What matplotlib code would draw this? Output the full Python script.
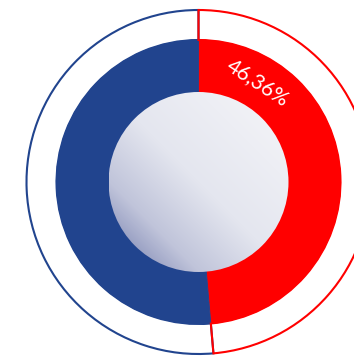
import numpy as np
import matplotlib
matplotlib.use("Agg")
import matplotlib.pyplot as plt
from matplotlib.colors import LinearSegmentedColormap
from matplotlib.patches import Circle

labels = ["Rouge", "Bleu"]
values = [46.36, 49.0]
colors = ["#ff0000", "#21448e"]
label_text = "46,36%"

W, H = 354, 358
cx, cy = 198.5, H - 182
r_outer, r_ring, r_inner = 172, 142, 90

fig = plt.figure(figsize=(W / 100, H / 100), dpi=100)
ax = fig.add_axes([0, 0, 1, 1])

# main donut (full pie, covered by the gradient disc)
donut, _ = ax.pie(values, colors=colors, radius=r_ring, center=(cx, cy),
                  startangle=90, counterclock=False)
for w, c in zip(donut, colors):
    w.set_edgecolor(c)
    w.set_linewidth(0.6)

# thin outline ring
outline, _ = ax.pie(values, colors=colors, radius=r_outer, center=(cx, cy),
                    startangle=90, counterclock=False,
                    wedgeprops=dict(width=r_outer - r_ring, fill=False, linewidth=1.5))
for w, c, z in zip(outline, colors, [3, 2]):
    w.set_edgecolor(c)
    w.set_zorder(z)

# gradient disc in the middle
cmap = LinearSegmentedColormap.from_list(
    "disc", [(0.0, "#f6f6f9"), (0.5, "#e4e6ef"), (0.75, "#c0c4da"), (1.0, "#6a75a8")])
n = 300
xx, yy = np.meshgrid(np.linspace(0, 1, n), np.linspace(0, 1, n))
t = ((1 - xx) + (1 - yy)) / 2
img = ax.imshow(t, cmap=cmap, origin="lower", zorder=4,
                extent=(cx - r_inner, cx + r_inner, cy - r_inner, cy + r_inner))
disc = Circle((cx, cy), r_inner, transform=ax.transData)
img.set_clip_path(disc)

# percentage label along the red arc
ang = np.radians(90 - 31)
lx, ly = cx + 116 * np.cos(ang), cy + 116 * np.sin(ang)
ax.text(lx, ly, label_text, color="white", fontsize=15, family="Lato",
        rotation=-33, ha="center", va="center", zorder=5)

ax.set_xlim(0, W)
ax.set_ylim(0, H)
ax.set_aspect("equal")
ax.axis("off")

fig.savefig("out.png", dpi=100)
